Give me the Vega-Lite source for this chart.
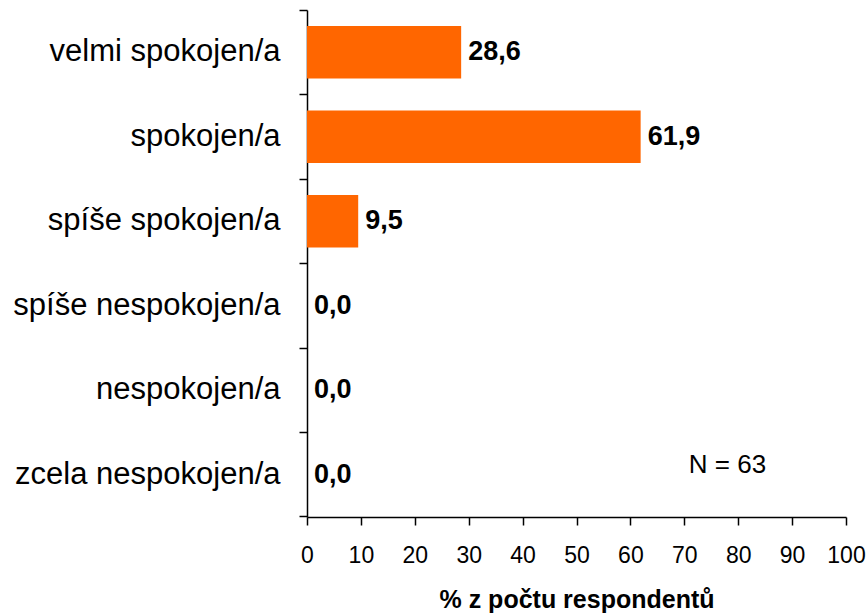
{
  "$schema": "https://vega.github.io/schema/vega-lite/v6.json",
  "width": 539,
  "height": 507,
  "autosize": "none",
  "padding": {"left": 307, "top": 10, "right": 22, "bottom": 99},
  "background": "white",
  "config": {
    "view": {"stroke": null},
    "font": "Liberation Sans",
    "locale": {"number": {"decimal": ",", "thousands": " ", "grouping": [3], "currency": ["", " Kč"]}},
    "axis": {"domainColor": "black", "tickColor": "black", "domainWidth": 1.5, "tickWidth": 1.5, "labelColor": "black", "titleColor": "black", "labelFont": "Liberation Sans", "titleFont": "Liberation Sans"}
  },
  "data": {
    "values": [
      {"kategorie": "velmi spokojen/a", "procento": 28.6},
      {"kategorie": "spokojen/a", "procento": 61.9},
      {"kategorie": "spíše spokojen/a", "procento": 9.5},
      {"kategorie": "spíše nespokojen/a", "procento": 0.0},
      {"kategorie": "nespokojen/a", "procento": 0.0},
      {"kategorie": "zcela nespokojen/a", "procento": 0.0}
    ]
  },
  "resolve": {"axis": {"y": "independent"}},
  "layer": [
    {
      "mark": {"type": "bar", "color": "#FF6600"},
      "encoding": {
        "y": {
          "field": "kategorie",
          "type": "nominal",
          "sort": null,
          "scale": {"paddingInner": 0.38, "paddingOuter": 0.19},
          "axis": {"title": null, "orient": "left", "labelFontSize": 31, "tickSize": 8, "labelPadding": 19, "bandPosition": -0.306, "labelBound": false, "labelLimit": 400}
        },
        "x": {
          "field": "procento",
          "type": "quantitative",
          "scale": {"domain": [0, 100], "nice": false},
          "axis": {"title": "% z počtu respondentů", "titleFontSize": 25, "titleFontWeight": "bold", "titlePadding": 20, "labelFontSize": 23, "tickSize": 8, "labelPadding": 19, "values": [0,10,20,30,40,50,60,70,80,90,100], "grid": false, "labelFlush": false}
        }
      }
    },
    {
      "mark": {"type": "text", "align": "left", "baseline": "middle", "dx": 7, "fontSize": 27, "fontWeight": "bold", "color": "black"},
      "encoding": {
        "y": {
          "field": "kategorie",
          "type": "nominal",
          "sort": null,
          "axis": {"title": null, "orient": "left", "labels": false, "domain": false, "tickSize": 8, "bandPosition": 1.306, "values": ["zcela nespokojen/a"]}
        },
        "x": {"field": "procento", "type": "quantitative"},
        "text": {"field": "procento", "type": "quantitative", "format": ".1f"}
      }
    },
    {
      "data": {"values": [{"kategorie": "zcela nespokojen/a", "x": 78, "popis": "N = 63"}]},
      "mark": {"type": "text", "align": "center", "baseline": "middle", "dy": -10, "fontSize": 26, "fontWeight": "normal", "color": "black"},
      "encoding": {
        "x": {"field": "x", "type": "quantitative"},
        "y": {"field": "kategorie", "type": "nominal", "sort": null, "axis": null},
        "text": {"field": "popis", "type": "nominal"}
      }
    }
  ]
}
